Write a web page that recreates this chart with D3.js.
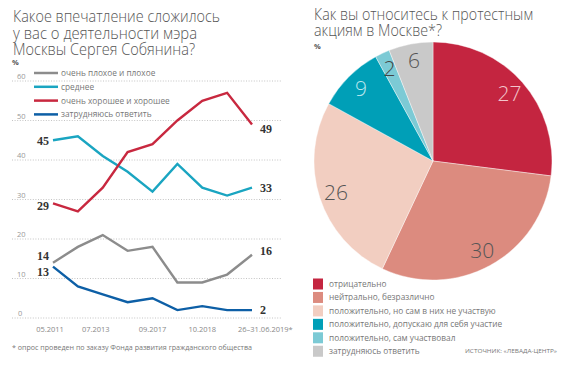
<!DOCTYPE html>
<html><head><meta charset="utf-8">
<script src="https://cdn.jsdelivr.net/npm/d3@7"></script>
<style>
body{margin:0;background:#fff;}
svg{display:block;}
text{font-family:"Open Sans",sans-serif;}
</style></head>
<body><svg id="c" width="570" height="367"></svg>
<script>
// ---- Line chart data ----
const periods = d3.range(9);
const xTickLabels = ["05.2011","","07.2013","","09.2017","","10.2018","","26–31.06.2019*"];
const seriesNames = ["очень плохое и плохое","среднее","очень хорошее и хорошее","затрудняюсь ответить"];
const badValues = [14,18,21,17,18,9,9,11,16];
const averageValues = [45,46,41,37,32,39,33,31,33];
const goodValues = [29,27,33,42,44,50,55,57,49];
const unsureValues = [13,8,6,4,5,2,3,2,2];
const yTicks = [0,10,20,30,40,50,60];

// ---- Pie data ----
const pieCategories = ["отрицательно","нейтрально, безразлично","положительно, но сам в них не участвую","положительно, допускаю для себя участие","положительно, сам участвовал","затрудняюсь ответить"];
const pieValues = [27,30,26,9,2,6];

const svg = d3.select("#c");

// ---- styles ----
const lineColors = ["#8c8c8c","#1aa5c1","#c8283f","#0d5fa6"];
const lineSeries = [badValues, averageValues, goodValues, unsureValues];
const startOff = [-7, 1, 3, 5];
const endOff = [-4, 0, 5, 0];
const pieColors = ["#c42540","#dc8b7f","#f2cec1","#009fb7","#7ccad5","#c9c9c9"];
const pieLabelColors = ["#f3c5cc","#555","#555","#b9e6ee","#444","#555"];

// titles
function title(lines, x, y0, lh, lens){
  lines.forEach((t,i)=>{
    svg.append("text").attr("x",x).attr("y",y0+i*lh).text(t)
      .attr("font-size",15.5).attr("font-weight",300).attr("fill","#555")
      .attr("textLength",lens[i]).attr("lengthAdjust","spacingAndGlyphs");
  });
}
title(["Какое впечатление сложилось","у вас о деятельности мэра","Москвы Сергея Собянина?"],13,22,16.5,[207,184,182]);
title(["Как вы относитесь к протестным","акциям в Москве*?"],314,20,16,[219,128]);
svg.append("text").attr("x",12).attr("y",65).text("%").attr("font-size",7.5).attr("font-weight",700).attr("fill","#555");
svg.append("text").attr("x",314).attr("y",49).text("%").attr("font-size",7.5).attr("font-weight",700).attr("fill","#555");

// ---- line chart ----
const x = d3.scalePoint().domain(periods).range([53,252]);
const y = d3.scaleLinear().domain([0,60]).range([318,81]);

const grid = svg.append("g");
yTicks.forEach(t=>{
  grid.append("line").attr("x1",12).attr("x2",282).attr("y1",y(t)).attr("y2",y(t))
    .attr("stroke","#b5b5b5").attr("stroke-width",0.8).attr("stroke-dasharray","1,1.6");
  grid.append("text").attr("x",t===0?18:17).attr("y",y(t)-2).text(t)
    .attr("font-size",7.5).attr("fill","#999");
});

// x tick labels
periods.forEach((p,i)=>{
  if(!xTickLabels[i]) return;
  const last = i===periods.length-1;
  svg.append("text").attr("x",x(p)+(last?-14:(i===2?-7:(i===0?-3:0)))).attr("y",332)
    .attr("text-anchor",last?"start":"middle").text(xTickLabels[i])
    .attr("font-size",7.5).attr("fill","#888");
});

// legend
seriesNames.forEach((n,i)=>{
  const ly = 73 + i*13.8;
  svg.append("line").attr("x1",34).attr("x2",58).attr("y1",ly).attr("y2",ly)
    .attr("stroke",lineColors[i]).attr("stroke-width",2.5);
  svg.append("text").attr("x",61).attr("y",ly+3).text(n).attr("font-size",8.3).attr("fill","#777");
});

const line = d3.line().x((d,i)=>x(periods[i])).y(d=>y(d));
lineSeries.forEach((s,i)=>{
  svg.append("path").attr("d",line(s)).attr("fill","none")
    .attr("stroke",lineColors[i]).attr("stroke-width",2.4).attr("stroke-linejoin","miter");
});
lineSeries.forEach((s,i)=>{
  svg.append("text").attr("x",x(periods[0])-4).attr("y",y(s[0])+startOff[i]+4)
    .attr("text-anchor","end").text(s[0])
    .style("font-family","'Liberation Serif',serif").attr("font-weight",700).attr("font-size",12).attr("fill","#333");
  const n = s.length-1;
  svg.append("text").attr("x",x(periods[n])+8).attr("y",y(s[n])+endOff[i]+4)
    .text(s[n])
    .style("font-family","'Liberation Serif',serif").attr("font-weight",700).attr("font-size",12).attr("fill","#333");
});

svg.append("text").attr("x",12).attr("y",350).text("* опрос проведен по заказу Фонда развития гражданского общества")
  .attr("font-size",7).attr("fill","#777").attr("textLength",240).attr("lengthAdjust","spacingAndGlyphs");

// ---- pie ----
const cx=433, cy=161, R=119;
const pie = d3.pie().sort(null).value(d=>d)(pieValues);
const arc = d3.arc().innerRadius(0).outerRadius(R);
const labArc = d3.arc().innerRadius(102).outerRadius(102);
const pg = svg.append("g").attr("transform",`translate(${cx},${cy})`);
pg.selectAll("path").data(pie).join("path").attr("d",arc)
  .attr("fill",(d,i)=>pieColors[i]).attr("stroke","#fff").attr("stroke-width",0.4);
pg.selectAll("text").data(pie).join("text")
  .attr("transform",d=>`translate(${labArc.centroid(d)})`)
  .attr("text-anchor","middle").attr("dy","0.36em")
  .text(d=>d.data).attr("font-size",21).attr("font-weight",300)
  .attr("fill",(d,i)=>pieLabelColors[i]);

// pie legend
pieCategories.forEach((c,i)=>{
  const ly = 284 + i*13.45;
  svg.append("rect").attr("x",313).attr("y",ly-5.5).attr("width",10).attr("height",11).attr("fill",pieColors[i]);
  svg.append("text").attr("x",329).attr("y",ly+3).text(c).attr("font-size",8.3).attr("fill","#777");
});
svg.append("text").attr("x",465).attr("y",353).text("ИСТОЧНИК: «ЛЕВАДА-ЦЕНТР»")
  .attr("font-size",6).attr("fill","#777").attr("textLength",92).attr("lengthAdjust","spacingAndGlyphs");
</script></body></html>
